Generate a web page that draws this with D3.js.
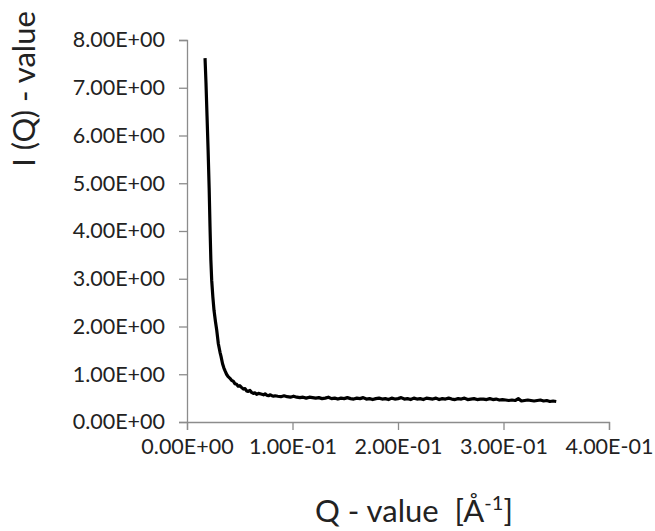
<!DOCTYPE html>
<html>
<head>
<meta charset="utf-8">
<script src="https://cdn.jsdelivr.net/npm/d3@7"></script>
<style>
  body { margin: 0; background: #fff; }
  text { font-family: Lato, "Open Sans", sans-serif; fill: #222; }
</style>
</head>
<body>
<div id="chart"></div>
<script>
// Chart data
var qValues = [
  0.0171, 0.0180, 0.0190, 0.0200, 0.0210, 0.0218, 0.0226, 0.0234, 0.0245, 0.0256,
  0.0270, 0.0282, 0.0297, 0.0313, 0.0322, 0.0337, 0.0350, 0.0361, 0.0375, 0.0390,
  0.0405, 0.0424, 0.0440, 0.0455, 0.0470, 0.0485, 0.0500, 0.0519, 0.0535, 0.0550,
  0.0565, 0.0580, 0.0597, 0.0612, 0.0629, 0.0645, 0.0660, 0.0677, 0.0693, 0.0709,
  0.0725, 0.0740, 0.0757, 0.0772, 0.0790, 0.0805, 0.0820, 0.0835,
  0.086, 0.089, 0.092, 0.095, 0.098, 0.101, 0.104, 0.107, 0.110, 0.113,
  0.116, 0.119, 0.122, 0.125, 0.128, 0.131, 0.134, 0.137, 0.140, 0.143,
  0.146, 0.149, 0.152, 0.155, 0.158, 0.161, 0.164, 0.167, 0.170, 0.173,
  0.176, 0.179, 0.182, 0.185, 0.188, 0.191, 0.194, 0.197, 0.200, 0.203,
  0.206, 0.209, 0.212, 0.215, 0.218, 0.221, 0.224, 0.227, 0.230, 0.233,
  0.236, 0.239, 0.242, 0.245, 0.248, 0.251, 0.254, 0.257, 0.260, 0.263,
  0.266, 0.269, 0.272, 0.275, 0.278, 0.281, 0.284, 0.287, 0.290, 0.293,
  0.296, 0.299, 0.302, 0.305, 0.308, 0.311, 0.314, 0.317, 0.320, 0.323,
  0.326, 0.329, 0.332, 0.335, 0.338, 0.341, 0.344, 0.347, 0.350
];
var iValues = [
  7.62, 7.10, 6.40, 5.70, 4.90, 4.10, 3.40, 2.97, 2.62, 2.34,
  2.10, 1.92, 1.64, 1.46, 1.38, 1.22, 1.13, 1.07, 1.00, 0.95,
  0.92, 0.87, 0.85, 0.80, 0.79, 0.75, 0.76, 0.72, 0.69, 0.70,
  0.65, 0.64, 0.66, 0.62, 0.60, 0.61, 0.58, 0.60, 0.59, 0.58,
  0.57, 0.59, 0.56, 0.55, 0.57, 0.55, 0.54, 0.55,
  0.54, 0.53, 0.55, 0.53, 0.52, 0.54, 0.52, 0.51, 0.52, 0.50,
  0.52, 0.51, 0.50, 0.51, 0.49, 0.50, 0.52, 0.49, 0.50, 0.48,
  0.50, 0.49, 0.51, 0.49, 0.48, 0.50, 0.49, 0.51, 0.48, 0.49,
  0.47, 0.49, 0.50, 0.48, 0.49, 0.47, 0.50, 0.48, 0.49, 0.51,
  0.48, 0.49, 0.47, 0.50, 0.48, 0.49, 0.47, 0.50, 0.49, 0.48,
  0.50, 0.47, 0.49, 0.48, 0.50, 0.48, 0.47, 0.49, 0.48, 0.50,
  0.47, 0.48, 0.49, 0.47, 0.48, 0.48, 0.47, 0.49, 0.47, 0.48,
  0.46, 0.47, 0.46, 0.45, 0.46, 0.45, 0.49, 0.44, 0.45, 0.46,
  0.45, 0.44, 0.45, 0.46, 0.44, 0.45, 0.43, 0.44, 0.43
];
var xTicks = [0, 0.1, 0.2, 0.3, 0.4];
var yTicks = [0, 1, 2, 3, 4, 5, 6, 7, 8];

var svgWidth = 655;
var svgHeight = 531;

var margin = { top: 40, right: 46, bottom: 109, left: 187 };
var chartWidth = svgWidth - margin.left - margin.right;
var chartHeight = svgHeight - margin.top - margin.bottom;

var svg = d3.select("#chart")
  .append("svg")
  .attr("width", svgWidth)
  .attr("height", svgHeight);

var chartGroup = svg.append("g")
  .attr("transform", `translate(${margin.left}, ${margin.top})`);

var xScale = d3.scaleLinear().domain([0, 0.4]).range([0, chartWidth]);
var yScale = d3.scaleLinear().domain([0, 8]).range([chartHeight, 0]);

// Excel style scientific labels, e.g. 8.00E+00
function sci(v) {
  var parts = v.toExponential(2).split("e");
  var exp = +parts[1];
  var sign = exp < 0 ? "-" : "+";
  var digits = String(Math.abs(exp)).padStart(2, "0");
  return parts[0] + "E" + sign + digits;
}

var bottomAxis = d3.axisBottom(xScale).tickValues(xTicks).tickFormat(sci).tickSizeOuter(0).tickSize(8).tickPadding(9);
var leftAxis = d3.axisLeft(yScale).tickValues(yTicks).tickFormat(sci).tickSizeOuter(0).tickSize(8).tickPadding(14);

var xAxisG = chartGroup.append("g")
  .attr("transform", `translate(0, ${chartHeight})`)
  .call(bottomAxis);

var yAxisG = chartGroup.append("g")
  .call(leftAxis);

[xAxisG, yAxisG].forEach(function(g) {
  g.selectAll("path, line").attr("stroke", "#8c8c8c").attr("stroke-width", 1.3);
  g.selectAll("text")
    .attr("font-family", "Lato, 'Open Sans', sans-serif")
    .attr("font-size", "21.5px")
    .attr("fill", "#2a2a2a");
});

var points = qValues.map(function(q, i) { return { q: q, v: iValues[i] }; });

var line = d3.line()
  .x(d => xScale(d.q))
  .y(d => yScale(d.v));

chartGroup.append("path")
  .datum(points)
  .attr("fill", "none")
  .attr("stroke", "#000")
  .attr("stroke-width", 3.2)
  .attr("stroke-linejoin", "round")
  .attr("d", line);

// Axis titles
svg.append("text")
  .attr("transform", "translate(35, 89) rotate(-90)")
  .attr("text-anchor", "middle")
  .attr("font-size", "31px")
  .text("I (Q) - value");

var xTitle = svg.append("text")
  .attr("x", 414)
  .attr("y", 522)
  .attr("text-anchor", "middle")
  .attr("font-size", "31px")
  .attr("xml:space", "preserve");
xTitle.append("tspan").text("Q - value  [Å");
xTitle.append("tspan").attr("font-size", "20px").attr("dy", -12).text("-1");
xTitle.append("tspan").attr("dy", 12).text("]");
</script>
</body>
</html>
